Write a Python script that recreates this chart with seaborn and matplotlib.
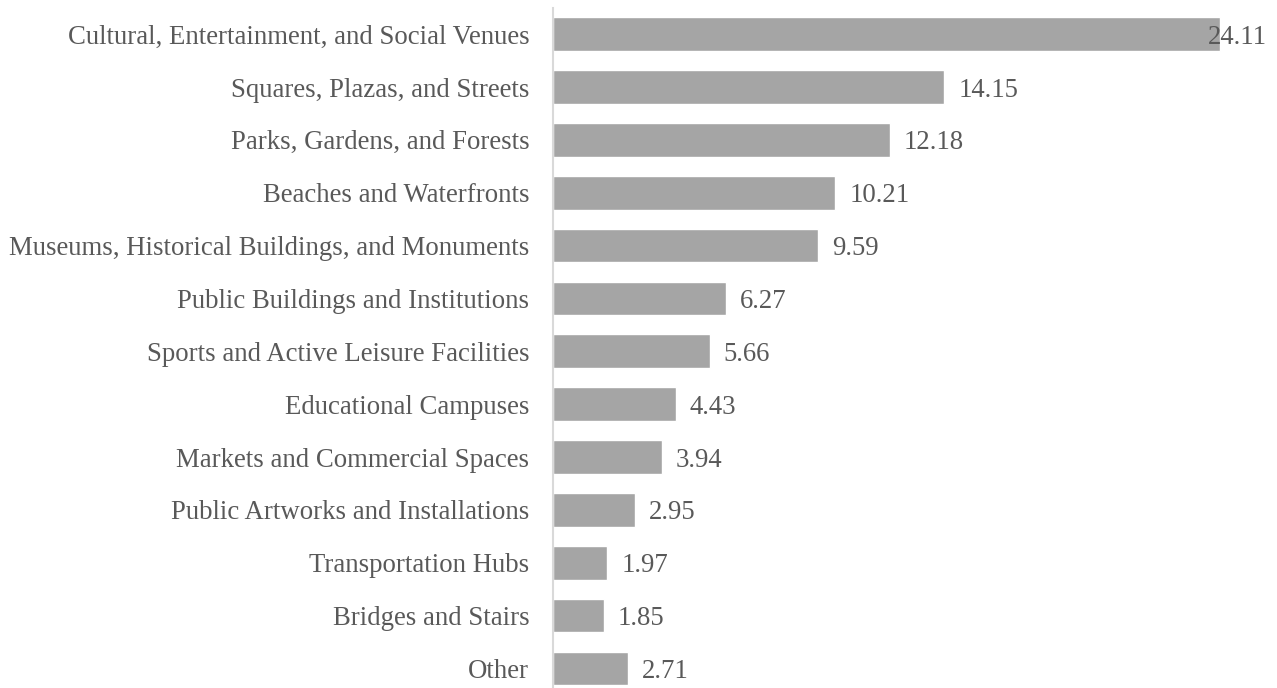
import matplotlib
matplotlib.use("Agg")
import matplotlib.pyplot as plt
import seaborn as sns
import pandas as pd

categories = [
    "Cultural, Entertainment, and Social Venues",
    "Squares, Plazas, and Streets",
    "Parks, Gardens, and Forests",
    "Beaches and Waterfronts",
    "Museums, Historical Buildings, and Monuments",
    "Public Buildings and Institutions",
    "Sports and Active Leisure Facilities",
    "Educational Campuses",
    "Markets and Commercial Spaces",
    "Public Artworks and Installations",
    "Transportation Hubs",
    "Bridges and Stairs",
    "Other",
]
values = [24.11, 14.15, 12.18, 10.21, 9.59, 6.27, 5.66, 4.43, 3.94, 2.95, 1.97, 1.85, 2.71]

df = pd.DataFrame({"category": categories, "value": values})

sns.set_theme(style="white")
plt.rcParams["font.family"] = ["Liberation Serif", "DejaVu Serif"]

fig = plt.figure(figsize=(12.77, 6.88), dpi=100)
ax = fig.add_axes([0.433, 0.0, 0.559, 0.988])

sns.barplot(data=df, x="value", y="category", color="#A5A5A5", saturation=1,
            width=0.64, ax=ax, orient="h")

xmax = 25.8
ax.set_xlim(0, xmax)
ax.set_ylim(len(categories) - 1 + 0.37, -0.49)

fs = 19.3
text_color = "#595959"
for i, v in enumerate(values):
    if v + 3.0 > xmax:
        ax.text(xmax, i, f"{v:.2f}", ha="right", va="center_baseline",
                fontsize=fs, color=text_color)
    else:
        ax.annotate(f"{v:.2f}", (v, i), xytext=(10, 0), textcoords="offset points",
                    ha="left", va="center_baseline", fontsize=fs, color=text_color)

ax.set_xlabel("")
ax.set_ylabel("")
ax.set_xticks([])
ax.tick_params(axis="y", length=0, pad=17, labelsize=fs, labelcolor=text_color)
for lbl in ax.get_yticklabels():
    lbl.set_verticalalignment("center_baseline")
for s in ["top", "right", "bottom"]:
    ax.spines[s].set_visible(False)
ax.spines["left"].set_color("#D9D9D9")
ax.spines["left"].set_linewidth(1.5)

fig.savefig("out.png", dpi=100)
